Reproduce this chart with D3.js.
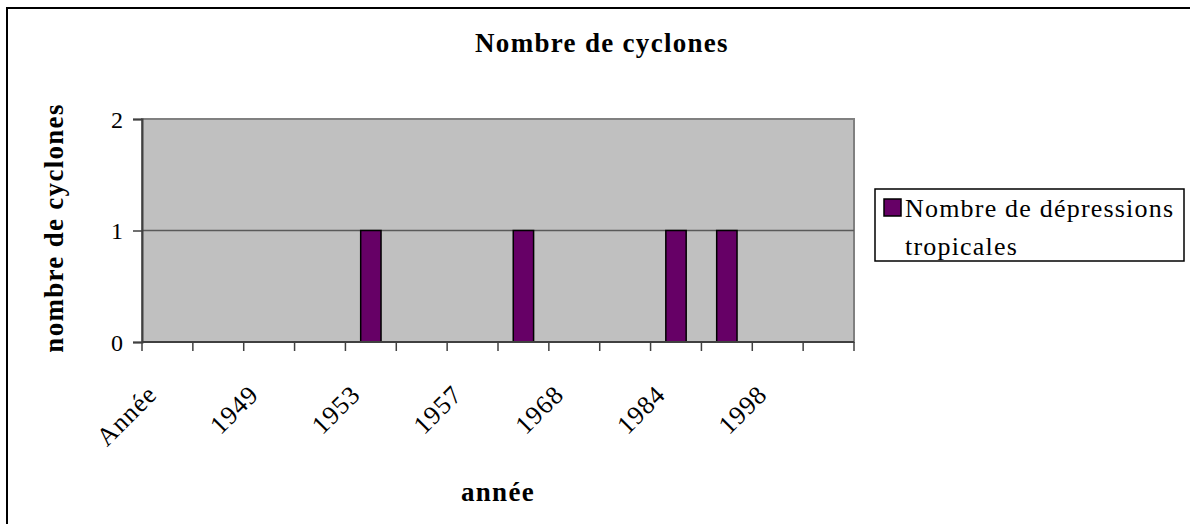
<!DOCTYPE html>
<html>
<head>
<meta charset="utf-8">
<script src="https://cdn.jsdelivr.net/npm/d3@7"></script>
<style>
  body { margin: 0; background: white; }
  text { font-family: "Liberation Serif", "Times New Roman", serif; fill: #000; }
</style>
</head>
<body>
<div id="myVis"></div>
<script>
// data (labels only shown on every other category)
const categories = ["Année", "1948", "1949", "1951", "1953", "1955", "1957", "1962", "1968", "1980", "1984", "1989", "1998", "2001"]
const depressions = [0, 0, 0, 0, 1, 0, 0, 1, 0, 0, 1, 1, 0, 0]
const yTicks = [0, 1, 2]
const seriesName = ["Nombre de dépressions", "tropicales"]

var margin = {top: 119, right: 336, bottom: 182, left: 142},
width = 1190 - margin.left - margin.right,
height = 524 - margin.top - margin.bottom;

const svg = d3.select("#myVis")
        .append("svg")
            .attr("width", 1190)
            .attr("height", 524)
            .style("display", "block")
            .style("background-color", "white")

// outer frame (runs off the right and bottom of the picture)
svg.append("rect")
    .attr("x", 7).attr("y", 8)
    .attr("width", 1200).attr("height", 530)
    .attr("fill", "none")
    .attr("stroke", "#000")
    .attr("stroke-width", 2)

const canvas = svg.append("g")
    .attr("transform", "translate(" + margin.left + "," + margin.top + ")");

const x = d3.scaleBand().domain(categories).range([0, width]).paddingInner(0.6).paddingOuter(0.3)
const xTick = d3.scaleLinear().domain([0, categories.length]).range([0, width])
const y = d3.scaleLinear().domain([0, 2]).range([height, 0])

// plot area
canvas.append("rect")
    .attr("width", width).attr("height", height)
    .attr("fill", "#c0c0c0")
    .attr("stroke", "#808080")
    .attr("stroke-width", 2)

// gridline
canvas.append("g")
    .selectAll("line")
    .data(yTicks.filter(d => d > 0 && d < 2))
    .enter()
    .append("line")
        .attr("x1", 0).attr("x2", width)
        .attr("y1", d => y(d)).attr("y2", d => y(d))
        .attr("stroke", "#5a5a5a")
        .attr("stroke-width", 1.5)

// bars
canvas.append("g")
    .selectAll("rect")
    .data(depressions.map((v, i) => ({cat: categories[i], v: v})).filter(d => d.v > 0))
    .enter()
    .append("rect")
        .attr("x", d => x(d.cat))
        .attr("y", d => y(d.v))
        .attr("width", x.bandwidth())
        .attr("height", d => y(0) - y(d.v))
        .attr("fill", "#660066")
        .attr("stroke", "#000")
        .attr("stroke-width", 1.5)

// y axis
const yAxis = canvas.append("g")
    .call(d3.axisLeft(y).tickValues(yTicks).tickFormat(d3.format("d")).tickSize(9).tickPadding(10))
yAxis.select(".domain").attr("stroke", "#404040").attr("stroke-width", 2)
yAxis.selectAll(".tick line").attr("stroke", "#404040").attr("stroke-width", 1.5)
yAxis.selectAll(".tick text")
    .style("font-family", "Liberation Serif")
    .style("font-size", "24px")
    .attr("dy", "0.35em")

// x axis: tick marks between categories
const xAxis = canvas.append("g")
    .attr("transform", "translate(0," + height + ")")
xAxis.append("line")
    .attr("x1", 0).attr("x2", width)
    .attr("stroke", "#404040").attr("stroke-width", 2)
xAxis.selectAll("line.tk")
    .data(d3.range(categories.length + 1))
    .enter()
    .append("line")
        .attr("class", "tk")
        .attr("x1", d => xTick(d)).attr("x2", d => xTick(d))
        .attr("y1", 0).attr("y2", 9)
        .attr("stroke", "#404040").attr("stroke-width", 1.5)

xAxis.selectAll("text")
    .data(categories.filter((d, i) => i % 2 == 0))
    .enter()
    .append("text")
        .attr("transform", d => "translate(" + (x(d) + x.bandwidth() / 2 - 9) + ",54) rotate(-45)")
        .attr("text-anchor", "end")
        .style("font-size", "26px")
        .style("letter-spacing", "1px")
        .text(d => d)

// titles
svg.append("text")
    .attr("x", 602).attr("y", 52)
    .attr("text-anchor", "middle")
    .style("font-size", "27px").style("font-weight", "bold").style("letter-spacing", "1.3px")
    .text("Nombre de cyclones")

svg.append("text")
    .attr("transform", "translate(63,228) rotate(-90)")
    .attr("text-anchor", "middle")
    .style("font-size", "27px").style("font-weight", "bold").style("letter-spacing", "1.3px")
    .text("nombre de cyclones")

svg.append("text")
    .attr("x", margin.left + width / 2).attr("y", 501)
    .attr("text-anchor", "middle")
    .style("font-size", "27px").style("font-weight", "bold").style("letter-spacing", "1.3px")
    .text("année")

// legend
const legend = svg.append("g").attr("transform", "translate(875,189)")
legend.append("rect")
    .attr("width", 309).attr("height", 72)
    .attr("fill", "white").attr("stroke", "#000").attr("stroke-width", 1.5)
legend.append("rect")
    .attr("x", 9).attr("y", 10)
    .attr("width", 17).attr("height", 17)
    .attr("fill", "#660066").attr("stroke", "#000").attr("stroke-width", 1.5)
legend.selectAll("text.lg")
    .data(seriesName)
    .enter()
    .append("text")
        .attr("class", "lg")
        .attr("x", 30)
        .attr("y", (d, i) => 28 + i * 38)
        .style("font-size", "26px").style("letter-spacing", "1.2px")
        .text(d => d)
</script>
</body>
</html>
